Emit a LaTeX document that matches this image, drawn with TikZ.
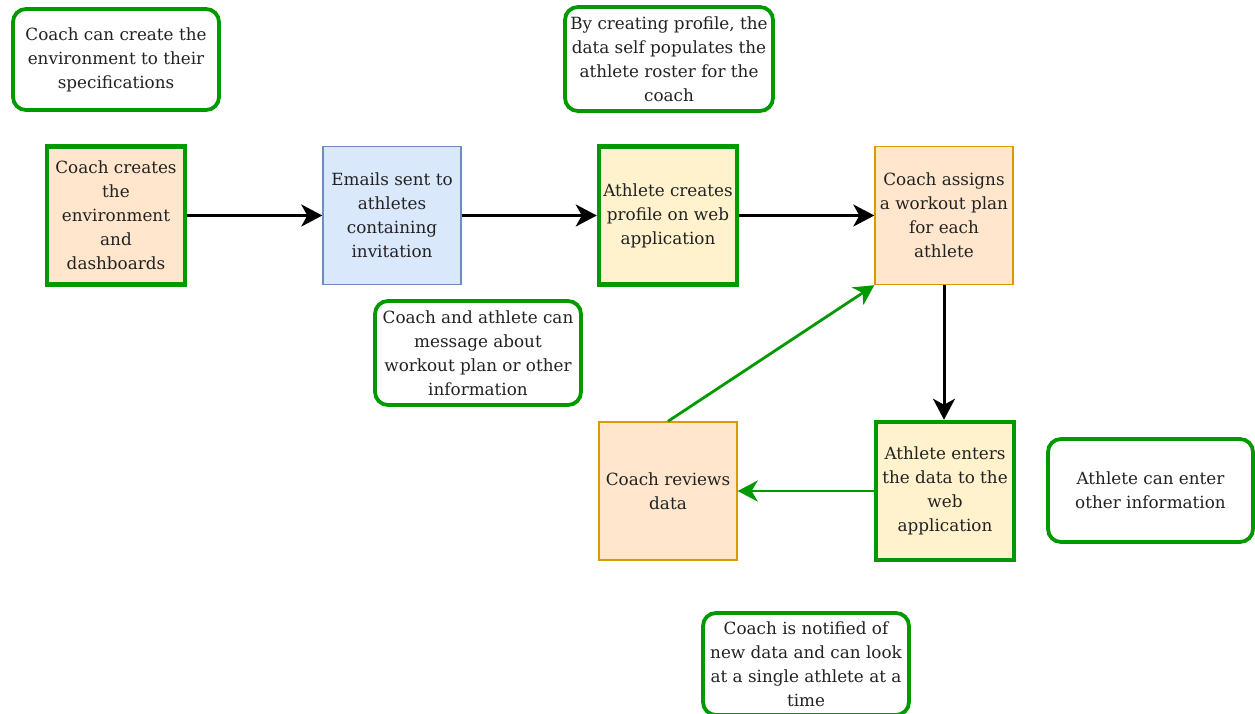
\documentclass[tikz,border=0pt]{standalone}
\usepackage{fontspec}
\setmainfont{DejaVu Serif}
\usetikzlibrary{arrows.meta}
\definecolor{grn}{HTML}{009900}
\definecolor{peach}{HTML}{FFE6CC}
\definecolor{lyellow}{HTML}{FFF2CC}
\definecolor{lblue}{HTML}{DAE8FC}
\definecolor{bluestroke}{HTML}{6C8EBF}
\definecolor{orangestroke}{HTML}{D79B00}
\definecolor{txt}{HTML}{222222}
\begin{document}
\begin{tikzpicture}[x=1pt,y=-1pt,
  base/.style={align=center, inner sep=0pt, text=txt, font=\fontsize{16.8}{24}\selectfont},
  sq/.style={base, minimum width=138, minimum height=138},
  greenbox/.style={sq, draw=grn, line width=4.5},
  orangebox/.style={sq, draw=orangestroke, line width=1.4, fill=peach},
  bluebox/.style={sq, draw=bluestroke, line width=1.4, fill=lblue},
  note/.style={base, draw=grn, line width=3.8, rounded corners=13, fill=white},
  arr/.style={line width=3, -{Stealth[length=21,width=22,inset=6]}},
  garr/.style={draw=grn, color=grn, line width=2.8, -{Stealth[length=20,width=21,inset=6]}}
]
\useasboundingbox (0,0) rectangle (1255,714);

\node[note, minimum width=206, minimum height=101] (n1) at (116,59.5)
  {Coach can create the\\environment to their\\specifications};
\node[note, minimum width=208, minimum height=104] (n2) at (669,59)
  {By creating profile, the\\data self populates the\\athlete roster for the\\coach};
\node[note, minimum width=206, minimum height=104] (n3) at (478,353)
  {Coach and athlete can\\message about\\workout plan or other\\information};
\node[note, minimum width=205, minimum height=103] (n4) at (1150.5,490.5)
  {Athlete can enter\\other information};
\node[note, minimum width=206, minimum height=102] (n5) at (806,664)
  {Coach is notified of\\new data and can look\\at a single athlete at a\\time};

\node[greenbox, fill=peach] (a) at (116,215.5)
  {Coach creates\\the\\environment\\and\\dashboards};
\node[bluebox] (b) at (392,215.5)
  {Emails sent to\\athletes\\containing\\invitation};
\node[greenbox, fill=lyellow] (c) at (668,215.5)
  {Athlete creates\\profile on web\\application};
\node[orangebox] (d) at (944,215.5)
  {Coach assigns\\a workout plan\\for each\\athlete};
\node[greenbox, fill=lyellow] (e) at (945,491)
  {Athlete enters\\the data to the\\web\\application};
\node[orangebox] (f) at (668,491)
  {Coach reviews\\data};

\draw[arr] (a.east) -- (b.west);
\draw[arr] (b.east) -- (c.west);
\draw[arr] (c.east) -- (d.west);
\draw[arr] (d.south) -- (d.south |- e.north);
\draw[garr] (e.west) -- (f.east);
\draw[garr] (f.north) -- (d.south west);
\end{tikzpicture}
\end{document}
